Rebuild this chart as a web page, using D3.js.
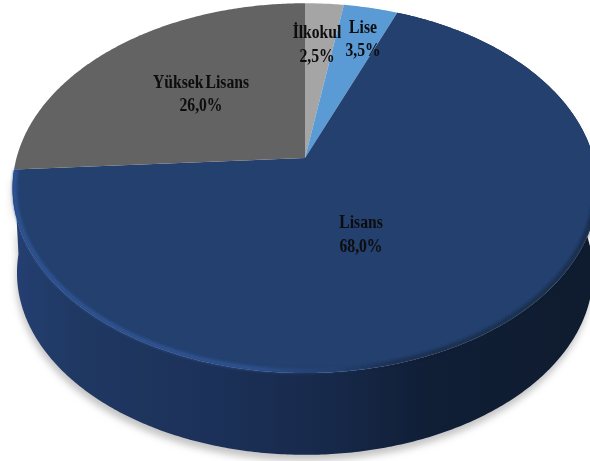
<!DOCTYPE html>
<html><head><meta charset="utf-8">
<script src="https://cdn.jsdelivr.net/npm/d3@7"></script>
<style>html,body{margin:0;padding:0;background:#fff}svg{display:block}</style>
</head><body><svg id="chart" width="590" height="461"></svg>
<script>
const categories = ["İlkokul", "Lise", "Lisans", "Yüksek Lisans"];
const shares = [2.5, 3.5, 68.0, 26.0];
const sliceColors = ["#a5a5a5", "#5b9bd5", "#23406f", "#636363"];

const svg = d3.select("#chart");
const colour = d3.scaleOrdinal(categories, sliceColors);
const pct = d => d.toFixed(1).replace(".", ",") + "%";

// Tilted disc: a perspective mapping from the unit circle onto the page.
const apex = {x: 305, y: 158}, persp = -0.163, yGain = 180, xGain = 288.5;
const depth = 85, baseShrink = 0.985;
function project(angle, r = 1, drop = 0, shrink = 1) {
  const u = Math.sin(angle) * r, v = -Math.cos(angle) * r;
  const w = 1 + persp * v;
  return [apex.x + xGain * shrink * u / w, apex.y + drop + (yGain * shrink * v) / w];
}
const path = d3.line();
function rim(a0, a1, drop = 0, shrink = 1) {
  const n = Math.max(2, Math.ceil(Math.abs(a1 - a0) / 0.01));
  return d3.range(n + 1).map(i => project(a0 + (a1 - a0) * i / n, 1, drop, shrink));
}

const arcs = d3.pie().sort(null).value(d => d.share)(
  categories.map((name, i) => ({name, share: shares[i]})));
const front = arcs.find(a => a.data.name === "Lisans");

const defs = svg.append("defs");
const wall = defs.append("linearGradient").attr("id", "wall")
  .attr("gradientUnits", "userSpaceOnUse").attr("x1", 10).attr("x2", 590).attr("y1", 0).attr("y2", 0);
[[0, "#243f72"], [0.12, "#1f3862"], [0.35, "#1c3159"], [0.55, "#17294a"], [0.72, "#101e36"], [1, "#0f1c2f"]]
  .forEach(([o, c]) => wall.append("stop").attr("offset", o).attr("stop-color", c));
const bevel = defs.append("linearGradient").attr("id", "bevel")
  .attr("gradientUnits", "userSpaceOnUse").attr("x1", 10).attr("x2", 590).attr("y1", 0).attr("y2", 0);
[[0, "#2f5597", 1], [0.42, "#2f5597", 0.9], [0.56, "#23406f", 0.4], [0.66, "#0f1c2f", 0.55], [1, "#0f1c2f", 0.65]]
  .forEach(([o, c, a]) => bevel.append("stop").attr("offset", o).attr("stop-color", c).attr("stop-opacity", a));
defs.append("filter").attr("id", "soft").attr("x", "-10%").attr("y", "-10%").attr("width", "120%").attr("height", "120%")
  .append("feGaussianBlur").attr("stdDeviation", 3.5);
defs.append("filter").attr("id", "edge").attr("x", "-5%").attr("y", "-5%").attr("width", "110%").attr("height", "110%")
  .append("feGaussianBlur").attr("stdDeviation", 1.8);
defs.append("filter").attr("id", "inkBlur").append("feGaussianBlur").attr("stdDeviation", 0.35);

// Drop shadow under the disc
const side = rim(front.startAngle, front.endAngle).concat(rim(front.endAngle, front.startAngle, depth, baseShrink));
svg.append("path").attr("d", path(side) + "Z")
  .attr("transform", "translate(-1,6) scale(1,1)").attr("fill", "#c4c4c4").attr("filter", "url(#soft)");

// Visible wall of the largest slice
svg.append("path").attr("d", path(side) + "Z").attr("fill", "url(#wall)");

// Top faces
svg.append("g").selectAll("path").data(arcs).join("path")
  .attr("d", d => path([[apex.x, apex.y], ...rim(d.startAngle, d.endAngle)]) + "Z")
  .attr("fill", d => colour(d.data.name));

// Rounded rim where the top meets the wall, kept just inside the face
const rimLine = d3.range(front.startAngle + 1.45, front.endAngle + 0.001, 0.01).map(a => project(a, 0.993));
svg.append("path").attr("d", path(rimLine))
  .attr("fill", "none").attr("stroke", "url(#bevel)").attr("stroke-width", 4).attr("filter", "url(#edge)");

// Labels
const labelAt = {
  "İlkokul": [317, 33.5, 57.5],
  "Lise": [363, 28.5, 51.5],
  "Lisans": [361, 223.5, 247.5],
  "Yüksek Lisans": [201, 83.5, 106.5]
};
const labels = svg.append("g").attr("font-family", "'Liberation Serif', serif")
  .attr("font-weight", "bold").attr("font-size", 18).attr("fill", "#0c0c0c").attr("word-spacing", -2)
  .attr("text-anchor", "middle").attr("dominant-baseline", "middle").attr("filter", "url(#inkBlur)");
const squeeze = 0.87;
arcs.forEach(a => {
  const [x, y1, y2] = labelAt[a.data.name];
  labels.append("text").attr("transform", `translate(${x},${y1}) scale(${squeeze},1)`).text(a.data.name);
  labels.append("text").attr("transform", `translate(${x},${y2}) scale(${squeeze},1)`).text(pct(a.data.share));
});
</script></body></html>
